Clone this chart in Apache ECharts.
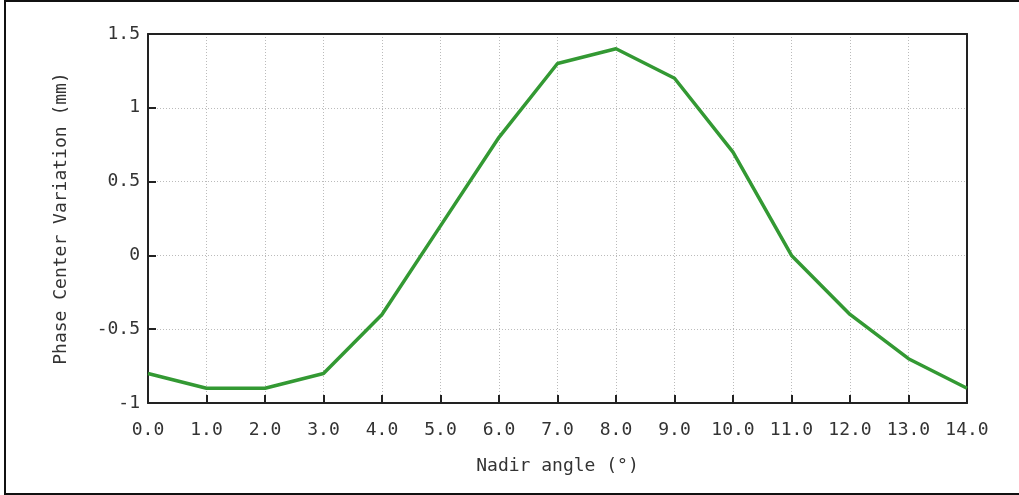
<!DOCTYPE html>
<html>
<head>
<meta charset="utf-8">
<script src="https://cdn.jsdelivr.net/npm/echarts@6/dist/echarts.min.js"></script>
<style>
  html, body { margin: 0; padding: 0; background: #fff; overflow: hidden; }
  #frame {
    position: absolute; left: 4px; top: 0; width: 1100px; height: 491px;
    border: 2px solid #111; box-sizing: content-box;
  }
  #chart { position: absolute; left: 0; top: 0; width: 1019px; height: 495px; }
</style>
</head>
<body>
<div id="frame"></div>
<div id="chart"></div>
<script>
// nadir angle (deg) and phase center variation (mm)
const nadirAngles = [0, 1, 2, 3, 4, 5, 6, 7, 8, 9, 10, 11, 12, 13, 14];
const pcvValues = [-0.8, -0.9, -0.9, -0.8, -0.4, 0.2, 0.8, 1.3, 1.4, 1.2, 0.7, 0, -0.4, -0.7, -0.9];

const FONT = '"DejaVu Sans Mono", monospace';
const TEXT = '#333';
const AXIS = '#222';

// top / right frame edges without ticks or labels
const frameAxis = {
  type: 'value',
  offset: 0,
  axisLine: { show: true, onZero: false, lineStyle: { color: AXIS, width: 2 } },
  axisTick: { show: false },
  axisLabel: { show: false },
  splitLine: { show: false }
};

const chart = echarts.init(document.getElementById('chart'), null, { renderer: 'canvas' });
chart.setOption({
  animation: false,
  grid: { left: 148, right: 52, top: 34, bottom: 92 },
  xAxis: [{
    type: 'value',
    min: 0, max: 14, interval: 1,
    position: 'bottom',
    name: 'Nadir angle (°)',
    nameLocation: 'middle',
    nameGap: 54,
    nameTextStyle: { fontFamily: FONT, fontSize: 18, color: TEXT },
    // sit on the zero of the hidden helper axis (its zero is the bottom edge)
    axisLine: { show: true, onZero: true, onZeroAxisIndex: 2, lineStyle: { color: AXIS, width: 2 } },
    axisTick: { show: true, inside: true, length: 8, lineStyle: { color: AXIS, width: 2 } },
    axisLabel: {
      fontFamily: FONT, fontSize: 18, color: TEXT, margin: 18,
      formatter: v => v.toFixed(1)
    },
    splitLine: { show: true, lineStyle: { color: '#bbb', type: [1, 2], width: 1 } }
  },
  Object.assign({ position: 'top', min: 0, max: 14 }, frameAxis)],
  yAxis: [{
    type: 'value',
    min: -1, max: 1.5, interval: 0.5,
    position: 'left',
    name: 'Phase Center Variation (mm)',
    nameLocation: 'middle',
    nameGap: 78,
    nameTextStyle: { fontFamily: FONT, fontSize: 18, color: TEXT },
    axisLine: { show: true, onZero: true, onZeroAxisIndex: 0, lineStyle: { color: AXIS, width: 2 } },
    axisTick: { show: true, inside: true, length: 8, lineStyle: { color: AXIS, width: 2 } },
    axisLabel: { fontFamily: FONT, fontSize: 18, color: TEXT, margin: 8 },
    splitLine: { show: true, lineStyle: { color: '#bbb', type: [1, 2], width: 1 } }
  },
  Object.assign({ position: 'right', min: -1, max: 1.5 }, frameAxis),
  { type: 'value', position: 'right', min: 0, max: 1, show: false }],
  series: [{
    type: 'line',
    data: nadirAngles.map((a, i) => [a, pcvValues[i]]),
    showSymbol: false,
    lineStyle: { color: '#339933', width: 3.5 },
    itemStyle: { color: '#339933' }
  }]
});
</script>
</body>
</html>
